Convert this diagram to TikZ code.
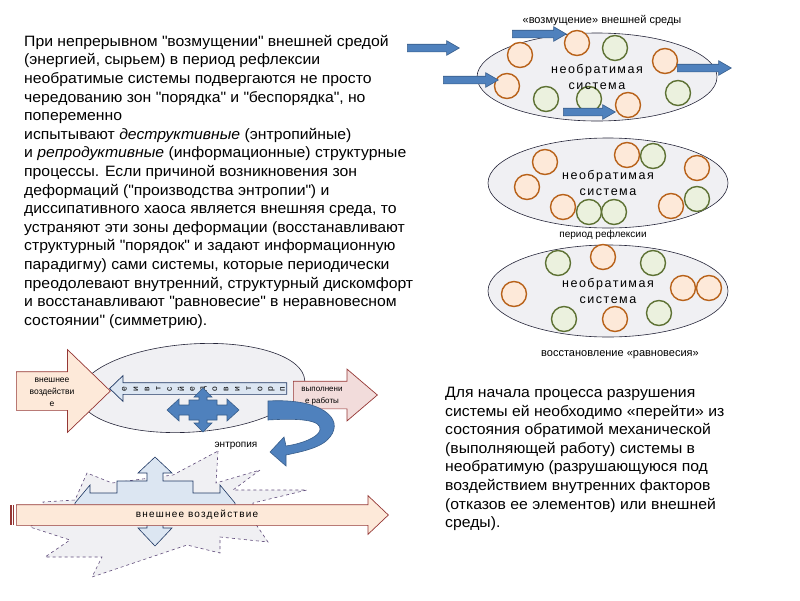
\documentclass[tikz,border=0pt]{standalone}
\usepackage{fontspec}
\setmainfont{Liberation Sans}
\newfontfamily\spaced[LetterSpace=12]{Liberation Sans}
\newfontfamily\wide[FakeStretch=1.05]{Liberation Sans}
\usetikzlibrary{shapes.geometric,shapes.arrows,positioning}

\definecolor{bluefill}{HTML}{4F81BD}
\definecolor{blueline}{HTML}{385D8A}
\definecolor{peach}{HTML}{FDE9D9}
\definecolor{pinkfill}{HTML}{F2DCDB}
\definecolor{darkred}{HTML}{953735}
\definecolor{orangeline}{HTML}{B8621A}
\definecolor{greenline}{HTML}{5E7234}
\definecolor{greenfill}{HTML}{EBF1DE}
\definecolor{cloud}{HTML}{F0F0F3}
\definecolor{rimline}{HTML}{26263A}
\definecolor{paleblue}{HTML}{DCE6F2}
\definecolor{navy}{HTML}{1F3864}
\definecolor{starline}{HTML}{5F4B7A}

\newcommand{\qq}[1]{\textquotedbl#1\textquotedbl}

\begin{document}
\begin{tikzpicture}[x=1pt, y=-1pt, node distance=6pt,
    ball/.style={circle, minimum size=25pt, inner sep=0pt, line width=1.4pt},
    hot/.style={ball, draw=orangeline, fill=peach},
    cool/.style={ball, draw=greenline, fill=greenfill},
    system/.style={ellipse, draw=rimline, fill=cloud, line width=0.6pt, inner sep=0pt},
    inside/.style={font=\spaced\fontsize{12.5}{16}\selectfont, align=center, inner sep=0pt},
    push/.style={single arrow, draw=blueline, fill=bluefill, line width=0.6pt,
        inner xsep=0pt, inner ysep=3.5pt, minimum width=1pt, single arrow head extend=3.5pt,
        single arrow tip angle=60, anchor=tail},
    bigarrow/.style={single arrow, line width=0.7pt, inner xsep=0pt, minimum width=1pt, anchor=tail},
    caption/.style={font=\fontsize{11}{13}\selectfont, inner sep=1pt},
    story/.style={font=\wide\fontsize{15}{18.6}\selectfont, align=left, inner sep=0pt}]

    \useasboundingbox (0,0) rectangle (800,600);

    % left text
    \node[story, anchor=north west] (story) at (24,35) {При непрерывном \qq{возмущении} внешней средой\\
        (энергией, сырьем) в период рефлексии\\
        необратимые системы подвергаются не просто\\
        чередованию зон \qq{порядка} и \qq{беспорядка}, но\\
        попеременно\\
        испытывают \textit{деструктивные} (энтропийные)\\
        и \textit{репродуктивные} (информационные) структурные\\
        процессы. Если причиной возникновения зон\\
        деформаций (\qq{производства энтропии}) и\\
        диссипативного хаоса является внешняя среда, то\\
        устраняют эти зоны деформации (восстанавливают\\
        структурный \qq{порядок} и задают информационную\\
        парадигму) сами системы, которые периодически\\
        преодолевают внутренний, структурный дискомфорт\\
        и восстанавливают \qq{равновесие} в неравновесном\\
        состоянии\textquotedbl{} (симметрию).};

    % right text
    \node[story, anchor=north west] (remark) at (445,387) {Для начала процесса разрушения\\
        системы ей необходимо «перейти» из\\
        состояния обратимой механической\\
        (выполняющей работу) системы в\\
        необратимую (разрушающуюся под\\
        воздействием внутренних факторов\\
        (отказов ее элементов) или внешней\\
        среды).};

    % three states of the system
    \node[system, minimum width=240pt, minimum height=88pt] (sys1) at (597,77) {};
    \node[system, minimum width=240pt, minimum height=90pt] (sys2) at (608,183) {};
    \node[system, minimum width=240pt, minimum height=92pt] (sys3) at (608,291) {};

    \foreach \x/\y [count=\n] in {577/43, 520/55, 665/61, 507/86, 628/105}
        \node[hot] (ha\n) at (\x,\y) {};
    \foreach \x/\y [count=\n] in {615/48, 546/99, 589/99, 678/93}
        \node[cool] (ga\n) at (\x,\y) {};
    \foreach \x/\y [count=\n] in {545/162, 527/187, 627/155, 563/207, 697/168, 671/206}
        \node[hot] (hb\n) at (\x,\y) {};
    \foreach \x/\y [count=\n] in {653/156, 589/212, 614/212, 697/199}
        \node[cool] (gb\n) at (\x,\y) {};
    \foreach \x/\y [count=\n] in {603/257, 514/294, 615/319, 683/288, 709/288}
        \node[hot] (hc\n) at (\x,\y) {};
    \foreach \x/\y [count=\n] in {558/263, 653/263, 564/319, 659/313}
        \node[cool] (gc\n) at (\x,\y) {};

    \node[inside] (name1) at (sys1) {необратимая\\система};
    \node[inside] (name2) at (sys2) {необратимая\\система};
    \node[inside] (name3) at (sys3) {необратимая\\система};

    \node[push, minimum height=52pt] (in1) at (407,48) {};
    \node[push, minimum height=54pt] (in2) at (512,34) {};
    \node[push, minimum height=55pt] (in3) at (443,80) {};
    \node[push, minimum height=52pt] (in4) at (563,112) {};
    \node[push, minimum height=54pt] (in5) at (677,68) {};

    \node[caption] (shock) at (602,21) {«возмущение» внешней среды};
    \node[caption, font=\fontsize{10}{12}\selectfont, below=1pt of sys2, xshift=-5pt] (reflex) {период рефлексии};
    \node[caption, below=12pt of sys3, xshift=12pt] (balance) {восстановление «равновесия»};

    % mechanical system
    \node[system, rotate=4, minimum width=226pt, minimum height=88pt] (work) at (192,388) {};

    \node[bigarrow, fill=peach, draw=darkred, inner ysep=19pt, single arrow head extend=22pt,
        minimum height=94pt, single arrow tip angle=88] (impact) at (16,391) {};
    \node[font=\fontsize{8.5}{12}\selectfont, align=center, inner sep=0pt] (impacttext) at (52,392) {внешнее\\воздействи\\е};

    \node[bigarrow, fill=paleblue, draw=navy, shape border rotate=180, inner ysep=5.5pt,
        single arrow head extend=7pt, minimum height=177pt, single arrow tip angle=88] (counter) at (287,388.5) {};
    \foreach \ch [count=\k] in {п,р,о,т,и,в,о,д,е,й,с,т,в,и,е}
        \node[rotate=90, font=\fontsize{8.5}{9}\selectfont, inner sep=0pt] (l\k) at (294-11.3*\k,389) {\ch};

    \node[bigarrow, fill=pinkfill, draw=darkred, inner ysep=13.5pt, single arrow head extend=12pt,
        minimum height=84pt, single arrow tip angle=81] (output) at (293,395) {};
    \node[font=\fontsize{8}{12}\selectfont, align=center, inner sep=0pt] (outputtext) at (322,396) {выполнени\\е работы};

    % four-way arrow
    \filldraw[fill=bluefill, draw=blueline, line width=0.6pt, shift={(203,410)}]
        (0,-22) -- (9,-13) -- (4,-13) -- (4,-10) -- (14,-10) -- (14,-5) -- (24,-5) -- (24,-11)
        -- (36,0) -- (24,11) -- (24,5) -- (14,5) -- (14,10) -- (4,10) -- (4,13) -- (9,13)
        -- (0,22) -- (-9,13) -- (-4,13) -- (-4,10) -- (-14,10) -- (-14,5) -- (-24,5) -- (-24,11)
        -- (-36,0) -- (-24,-11) -- (-24,-5) -- (-14,-5) -- (-14,-10) -- (-4,-10) -- (-4,-13) -- (-9,-13) -- cycle;

    % turning arrow
    \filldraw[fill=bluefill, draw=blueline, line width=0.6pt]
        (268,401) .. controls (320,398) and (345,418) .. (330,437)
        .. controls (322,448) and (300,452) .. (286,455) -- (286,466) -- (270,452) -- (284,437) -- (286,446)
        .. controls (300,444) and (318,438) .. (320,430)
        .. controls (322,420) and (300,418) .. (268,420) -- cycle;

    \node[caption, font=\fontsize{10}{12}\selectfont] (entropy) at (236,446) {энтропия};

    % burst
    \filldraw[fill=cloud, draw=starline, dashed, line width=0.6pt]
        (218,451) -- (216,483) -- (260,470) -- (233,490) -- (307,490) -- (253,503) -- (253,520)
        -- (268,542) -- (220,537) -- (220,553) -- (187,545) -- (92,577) -- (102,557) -- (45,557)
        -- (70,540) -- (30,527) -- (45,515) -- (43,502) -- (75,500) -- (87,473) -- (112,483)
        -- (173,475) -- cycle;

    \filldraw[fill=paleblue, draw=navy, line width=0.6pt]
        (155,457) -- (172,473) -- (163,473) -- (163,481) -- (193,481) -- (193,493) -- (220,493)
        -- (220,485) -- (235,503) -- (235,515) -- (163,515) -- (163,528) -- (172,528) -- (155,546)
        -- (138,528) -- (147,528) -- (147,515) -- (75,515) -- (75,503) -- (90,485) -- (90,493)
        -- (117,493) -- (117,481) -- (147,481) -- (147,473) -- (138,473) -- cycle;

    \node[bigarrow, fill=peach, draw=darkred, inner ysep=10pt, single arrow head extend=9pt,
        minimum height=372pt, single arrow tip angle=87] (outside) at (16,515) {};
    \fill[darkred] (10,505) rectangle (11.5,525);
    \fill[darkred] (12.5,505) rectangle (14,525);
    \node[font=\spaced\fontsize{10}{12}\selectfont] (outsidetext) at (197,515) {внешнее воздействие};
\end{tikzpicture}
\end{document}
